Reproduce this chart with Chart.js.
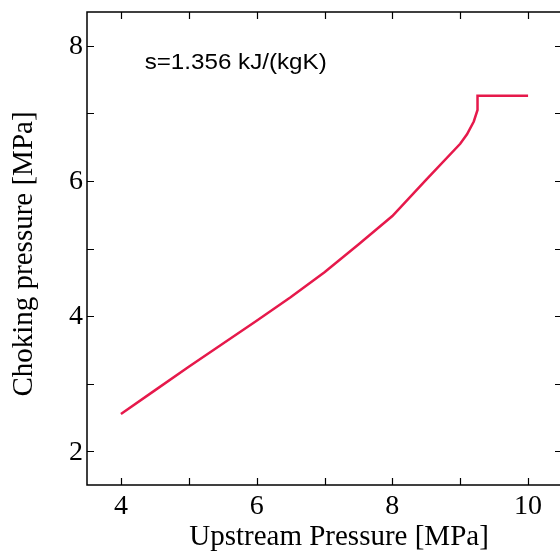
<!DOCTYPE html>
<html>
<head>
<meta charset="utf-8">
<script src="https://cdn.jsdelivr.net/npm/chart.js@4"></script>
<style>
  html, body { margin: 0; padding: 0; background: #fff; overflow: hidden; }
  #wrap { width: 560px; height: 554px; overflow: hidden; }
</style>
</head>
<body>
<div id="wrap"><canvas id="chokeChart" width="575" height="554"></canvas></div>
<script>
// upstream pressure [MPa] vs choking pressure [MPa]
const upstream = [4, 4.5, 5, 5.5, 6, 6.5, 7, 7.5, 8, 8.5, 9, 9.1, 9.2, 9.255, 9.255, 10];
const choking  = [2.55, 2.9, 3.25, 3.59, 3.93, 4.28, 4.65, 5.06, 5.48, 6.02, 6.55, 6.69, 6.88, 7.05, 7.26, 7.26];

const xTicks = [4, 5, 6, 7, 8, 9, 10];
const yTicks = [2, 3, 4, 5, 6, 7, 8];
const xLabels = ['4', '', '6', '', '8', '', '10'];
const yLabels = ['2', '', '4', '', '6', '', '8'];

const note = 's=1.356 kJ/(kgK)';

const serif = "'Liberation Serif', 'DejaVu Serif', serif";

// frame, inward ticks, tick labels, titles and the note
const decorations = {
    id: 'decorations',
    afterDraw(chart) {
        const { ctx, chartArea: a, scales: { x, y } } = chart;
        const len = 7;
        ctx.save();
        ctx.strokeStyle = '#000';
        ctx.lineWidth = 1.5;
        ctx.strokeRect(a.left, a.top, a.right - a.left, a.bottom - a.top);

        ctx.lineWidth = 1.2;
        ctx.beginPath();
        xTicks.forEach(v => {
            const px = Math.round(x.getPixelForValue(v)) + 0.5;
            ctx.moveTo(px, a.bottom); ctx.lineTo(px, a.bottom - len);
            ctx.moveTo(px, a.top); ctx.lineTo(px, a.top + len);
        });
        yTicks.forEach(v => {
            const py = Math.round(y.getPixelForValue(v)) + 0.5;
            ctx.moveTo(a.left, py); ctx.lineTo(a.left + len, py);
            ctx.moveTo(a.right, py); ctx.lineTo(a.right - len, py);
        });
        ctx.stroke();

        ctx.fillStyle = '#000';
        ctx.font = '28px ' + serif;
        ctx.textBaseline = 'middle';
        ctx.textAlign = 'center';
        xTicks.forEach((v, i) => {
            if (xLabels[i]) ctx.fillText(xLabels[i], x.getPixelForValue(v), a.bottom + 22);
        });
        ctx.textAlign = 'right';
        yTicks.forEach((v, i) => {
            if (yLabels[i]) ctx.fillText(yLabels[i], a.left - 4, y.getPixelForValue(v) + 1);
        });

        ctx.font = '29px ' + serif;
        ctx.textAlign = 'center';
        ctx.textBaseline = 'alphabetic';
        ctx.fillText('Upstream Pressure [MPa]', 339, 545);

        ctx.translate(32, 254);
        ctx.rotate(-Math.PI / 2);
        ctx.fillText('Choking pressure [MPa]', 0, 0);
        ctx.restore();

        ctx.save();
        ctx.fillStyle = '#000';
        ctx.font = "22px 'Liberation Sans', Arial, sans-serif";
        ctx.textAlign = 'left';
        ctx.textBaseline = 'middle';
        const w = ctx.measureText(note).width;
        ctx.translate(x.getPixelForValue(4.35), y.getPixelForValue(7.75));
        ctx.scale(182 / w, 1);
        ctx.fillText(note, 0, 0);
        ctx.restore();
    }
};

const ctx = document.getElementById('chokeChart').getContext('2d');
const chokeChart = new Chart(ctx, {
    type: 'line',
    data: {
        datasets: [{
            data: upstream.map((v, i) => ({ x: v, y: choking[i] })),
            borderColor: '#e6194b',
            borderWidth: 2.5,
            pointRadius: 0,
            fill: false,
            tension: 0
        }]
    },
    options: {
        responsive: false,
        animation: false,
        layout: { padding: { left: 0, top: 12, right: 13, bottom: 0 } },
        plugins: {
            legend: { display: false },
            tooltip: { enabled: false }
        },
        scales: {
            x: {
                type: 'linear',
                min: 3.5,
                max: 10.5,
                grid: { display: false },
                border: { display: false },
                ticks: { display: false },
                afterFit: s => { s.height = 69; }
            },
            y: {
                type: 'linear',
                min: 1.5,
                max: 8.5,
                grid: { display: false },
                border: { display: false },
                ticks: { display: false },
                afterFit: s => { s.width = 87; }
            }
        }
    },
    plugins: [decorations]
});
</script>
</body>
</html>
